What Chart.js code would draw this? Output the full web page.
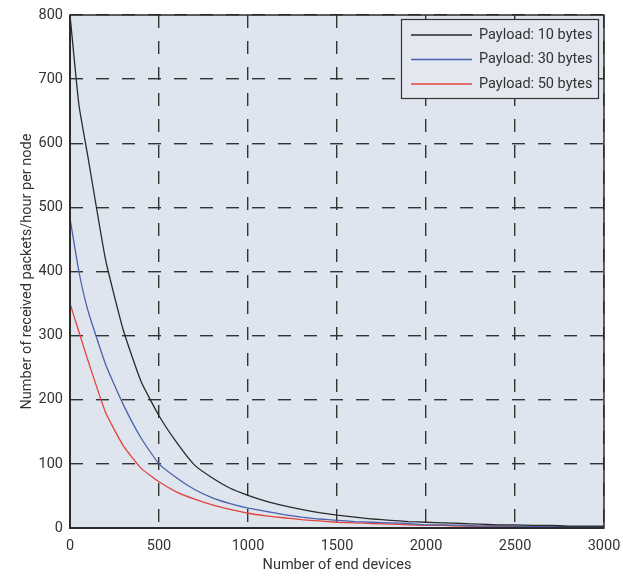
<!DOCTYPE html>
<html>
<head>
<meta charset="utf-8">
<script src="https://cdn.jsdelivr.net/npm/chart.js@4/dist/chart.umd.min.js"></script>
<style>
  html, body { margin: 0; padding: 0; background: #fff; }
  #wrap { width: 623px; height: 577px; }
</style>
</head>
<body>
<div id="wrap"><canvas id="packetsChart" width="623" height="577"></canvas></div>
<script>
// x positions (number of end devices) and read-off values
const devices = [0, 50, 100, 200, 300, 400, 500, 600, 700, 800, 900, 1000, 1100, 1200, 1300, 1400, 1500,
                 1600, 1700, 1800, 1900, 2000, 2100, 2200, 2300, 2400, 2500, 2600, 2700, 2800, 2900, 3000];
const payload10 = [800, 660, 580, 418, 308, 228, 175, 133, 98, 78, 62, 51, 42, 35, 29, 24, 20,
                   17, 14, 12, 10, 9, 8, 7, 6, 5, 5, 4, 4, 3, 3, 3];
const payload30 = [483, 400, 340, 255, 192, 140, 100, 78, 60, 47, 38, 31, 26, 21, 17, 14, 12,
                   10, 9, 8, 7, 5, 5, 4, 3, 3, 3, 2, 2, 2, 2, 2];
const payload50 = [350, 306, 262, 180, 128, 93, 72, 56, 45, 36, 29, 23, 19, 16, 13, 11, 9,
                   8, 7, 6, 5, 4, 4, 3, 3, 3, 2, 2, 2, 2, 2, 2];
const seriesLabels = ["Payload: 10 bytes", "Payload: 30 bytes", "Payload: 50 bytes"];
const seriesColors = ["#2a2a2a", "#4a62ad", "#e2433a"];
const yTicks = [0, 100, 200, 300, 400, 500, 600, 700, 800];
const xTicks = [0, 500, 1000, 1500, 2000, 2500, 3000];

const FONT = "Roboto, 'Liberation Sans', sans-serif";
const FSIZE = 14.5;
const TEXT = "#333333";

function toPoints(vals) {
    return vals.map((v, i) => ({ x: devices[i], y: v }));
}

// plot background, frame and the boxed legend (top right inside the plot)
const framePlugin = {
    id: "frame",
    beforeDraw(chart) {
        const a = chart.chartArea, ctx = chart.ctx;
        ctx.save();
        ctx.fillStyle = "#dfe5ee";
        ctx.fillRect(a.left, a.top, a.right - a.left, a.bottom - a.top);
        ctx.restore();
    },
    afterDatasetsDraw(chart) {
        const a = chart.chartArea, ctx = chart.ctx;
        ctx.save();
        // legend box
        const bx = a.right - 203, by = a.top + 4, bw = 198, bh = 80;
        ctx.fillStyle = "#e3e8f0";
        ctx.fillRect(bx, by, bw, bh);
        ctx.strokeStyle = "#333";
        ctx.lineWidth = 1.2;
        ctx.strokeRect(bx + 0.5, by + 0.5, bw - 1, bh - 1);
        ctx.font = FSIZE + "px " + FONT;
        ctx.textBaseline = "middle";
        ctx.fillStyle = TEXT;
        chart.data.datasets.forEach((ds, i) => {
            const y = by + 16 + i * 24.5;
            ctx.strokeStyle = ds.borderColor;
            ctx.lineWidth = 1.3;
            ctx.beginPath();
            ctx.moveTo(bx + 10, y);
            ctx.lineTo(bx + 71, y);
            ctx.stroke();
            ctx.fillText(ds.label, bx + 78, y);
        });
        // axes frame
        ctx.strokeStyle = "#2b2b2b";
        ctx.lineWidth = 1.5;
        ctx.strokeRect(a.left, a.top, a.right - a.left, a.bottom - a.top);
        ctx.lineWidth = 2;
        ctx.beginPath();
        ctx.moveTo(a.left, a.top);
        ctx.lineTo(a.left, a.bottom);
        ctx.lineTo(a.right, a.bottom);
        ctx.stroke();
        ctx.restore();
    }
};

const ctx = document.getElementById("packetsChart").getContext("2d");
new Chart(ctx, {
    type: "line",
    data: {
        datasets: [
            { label: seriesLabels[0], data: toPoints(payload10), borderColor: seriesColors[0] },
            { label: seriesLabels[1], data: toPoints(payload30), borderColor: seriesColors[1] },
            { label: seriesLabels[2], data: toPoints(payload50), borderColor: seriesColors[2] }
        ]
    },
    options: {
        responsive: false,
        animation: false,
        devicePixelRatio: 1,
        layout: { padding: { top: 15, right: 19, left: 0, bottom: 0 } },
        elements: {
            point: { radius: 0 },
            line: { borderWidth: 1.3, tension: 0.15 }
        },
        plugins: {
            tooltip: { enabled: false },
            legend: { display: false }
        },
        scales: {
            x: {
                type: "linear",
                min: 0,
                max: 3000,
                afterBuildTicks(scale) { scale.ticks = xTicks.map(v => ({ value: v })); },
                afterFit(scale) {
                    scale.height = 49;
                    scale.paddingLeft = 0;
                    scale.paddingRight = 0;
                },
                grid: { color: "#333", lineWidth: 1.4, drawTicks: false },
                border: { display: false, dash: [13, 13] },
                ticks: {
                    color: TEXT, padding: 10, font: { family: FONT, size: FSIZE },
                    callback: v => String(v)
                },
                title: {
                    display: true,
                    text: "Number of end devices",
                    color: TEXT,
                    font: { family: FONT, size: FSIZE },
                    padding: { top: 0, bottom: 3 }
                }
            },
            y: {
                min: 0,
                max: 800,
                afterBuildTicks(scale) { scale.ticks = yTicks.map(v => ({ value: v })); },
                afterFit(scale) {
                    scale.width = 70;
                    scale.paddingTop = 0;
                    scale.paddingBottom = 0;
                },
                grid: { color: "#333", lineWidth: 1.4, drawTicks: false },
                border: { display: false, dash: [13, 13] },
                ticks: {
                    color: TEXT, padding: 7, font: { family: FONT, size: FSIZE },
                    callback: v => String(v)
                },
                title: {
                    display: true,
                    text: "Number of received packets/hour per node",
                    color: TEXT,
                    font: { family: FONT, size: FSIZE },
                    padding: { top: 19, bottom: 0 }
                }
            }
        }
    },
    plugins: [framePlugin]
});
</script>
</body>
</html>
